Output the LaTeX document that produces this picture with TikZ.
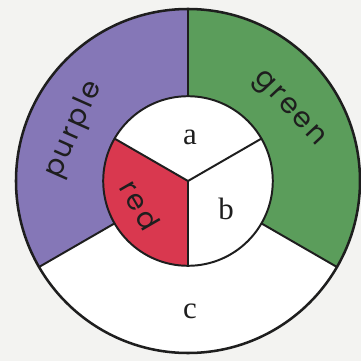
\documentclass[tikz,border=0pt]{standalone}
\usepackage{fontspec}
\setmainfont{Liberation Serif}
\newfontfamily\hand[LetterSpace=9]{Poppins}
\usepackage{tikz}
\usetikzlibrary{positioning}
\usepackage{xcolor}
\definecolor{ink}{HTML}{1E1E1E}
\definecolor{paper}{HTML}{F3F3F1}
\definecolor{lilac}{HTML}{8577B7}
\definecolor{leaf}{HTML}{5B9D5B}
\definecolor{rose}{HTML}{D9384F}
\newcommand{\Rout}{4.3}
\newcommand{\Rin}{2.12}

\begin{document}
\begin{tikzpicture}[
      letter/.style={font=\fontsize{22}{26}\selectfont, text=ink, inner sep=0pt},
      word/.style={font=\hand\fontsize{20}{24}\selectfont, text=ink, inner sep=0pt},
      edge/.style={draw=ink, line width=1.4pt}]
    \fill[paper] (-4.7,-4.5) rectangle (4.325,4.525);
    \useasboundingbox (-4.7,-4.5) rectangle (4.325,4.525);
    \coordinate (o) at (0,0);
    % outer ring
    \fill[white] (o) circle (\Rout);
    \fill[lilac] (o) -- (90:\Rout) arc[start angle=90, end angle=210, radius=\Rout] -- cycle;
    \fill[leaf] (o) -- (-30:\Rout) arc[start angle=-30, end angle=90, radius=\Rout] -- cycle;
    % inner disc
    \fill[white] (o) circle (\Rin);
    \fill[rose] (o) -- (150:\Rin) arc[start angle=150, end angle=270, radius=\Rin] -- cycle;
    % borders
    \draw[edge] (90:\Rin) -- (90:\Rout);
    \draw[edge] (210:\Rin) -- (210:\Rout);
    \draw[edge] (-30:\Rin) -- (-30:\Rout);
    \draw[edge] (o) -- (30:\Rin);
    \draw[edge] (o) -- (150:\Rin);
    \draw[edge] (o) -- (270:\Rin);
    \draw[edge] (o) circle (\Rin);
    \draw[ink, line width=1.8pt] (o) circle (\Rout);
    % labels
    \node[letter] (a) at (0.05,1.1) {a};
    \node[letter] (b) at (0.95,-0.7) {b};
    \node[letter] (c) at (0.05,-3.25) {c};
    \node[word, rotate=-60] (red) at (-1.2,-0.6) {red};
    \node[word, rotate=66] (purple) at (-2.85,1.28) {purple};
    \node[word, rotate=-47] (green) at (2.5,1.78) {green};
  \end{tikzpicture}
\end{document}
